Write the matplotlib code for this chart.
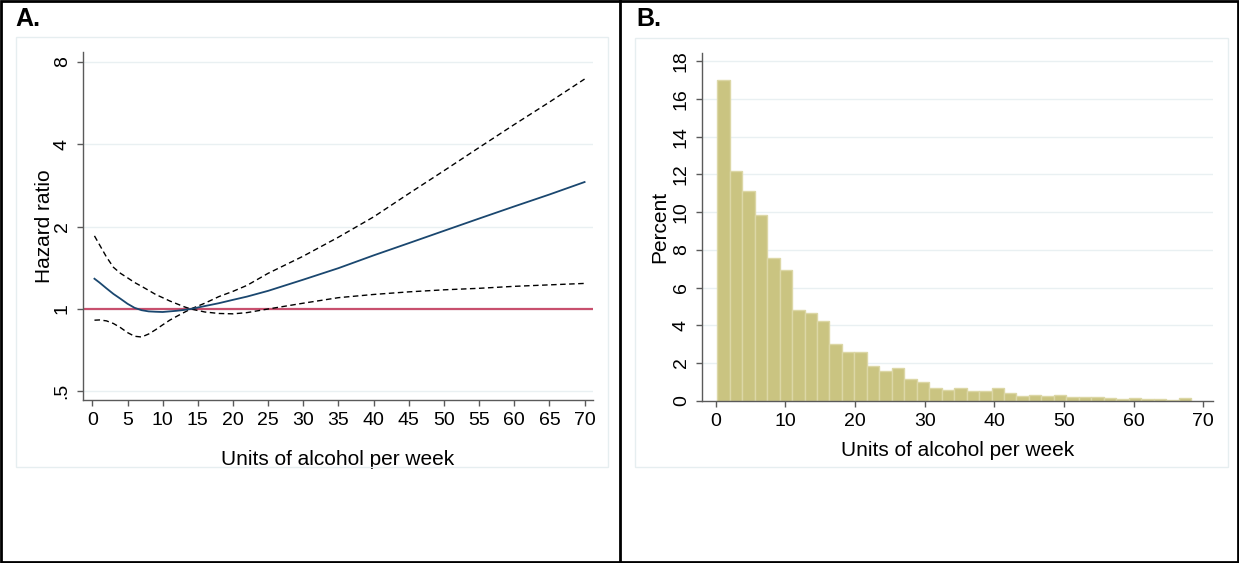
import matplotlib
matplotlib.use("Agg")
import matplotlib.pyplot as plt
from matplotlib.patches import Rectangle
from matplotlib.lines import Line2D
from matplotlib.ticker import FixedLocator, FixedFormatter, NullLocator
import numpy as np

plt.rcParams['font.family'] = ['Liberation Sans', 'DejaVu Sans']

# ---------------- Panel A data ----------------
units = [0.3, 1, 2, 3, 4, 5, 6, 7, 8, 9, 10, 11, 12, 13, 14, 16, 18, 20, 22, 25,
         30, 35, 40, 45, 50, 55, 60, 65, 70]
hr = [1.29, 1.25, 1.19, 1.135, 1.09, 1.045, 1.01, 0.99, 0.98, 0.977, 0.975, 0.98,
      0.985, 0.992, 1.0, 1.025, 1.05, 1.08, 1.11, 1.165, 1.28, 1.41, 1.57, 1.74,
      1.93, 2.14, 2.37, 2.62, 2.91]
ci_a = [1.85, 1.72, 1.55, 1.42, 1.35, 1.30, 1.25, 1.21, 1.17, 1.13, 1.10, 1.07,
        1.045, 1.02, 1.0, 0.975, 0.963, 0.96, 0.97, 1.0, 1.05, 1.10, 1.13, 1.155,
        1.175, 1.19, 1.21, 1.225, 1.24]
ci_b = [0.91, 0.912, 0.905, 0.885, 0.855, 0.82, 0.795, 0.79, 0.81, 0.84, 0.875,
        0.91, 0.94, 0.97, 1.0, 1.05, 1.11, 1.16, 1.22, 1.35, 1.56, 1.83, 2.17,
        2.64, 3.20, 3.89, 4.72, 5.70, 6.92]
ref_hr = 1.0
a_xticks = [0, 5, 10, 15, 20, 25, 30, 35, 40, 45, 50, 55, 60, 65, 70]
a_yticks = [0.5, 1, 2, 4, 8]
a_yticklabels = ['.5', '1', '2', '4', '8']

# ---------------- Panel B data ----------------
bin_start = 0.23
bin_width = 1.79
percent = [17.0, 12.17, 11.1, 9.83, 7.55, 6.91, 4.79, 4.63, 4.23, 3.02, 2.60, 2.60,
           1.84, 1.56, 1.73, 1.13, 0.97, 0.66, 0.57, 0.66, 0.52, 0.49, 0.68, 0.39,
           0.24, 0.28, 0.24, 0.28, 0.19, 0.18, 0.18, 0.12, 0.07, 0.12, 0.07, 0.07,
           0.03, 0.12]
b_xticks = [0, 10, 20, 30, 40, 50, 60, 70]
b_yticks = [0, 2, 4, 6, 8, 10, 12, 14, 16, 18]

W, H = 1239, 563
fig = plt.figure(figsize=(W / 100, H / 100), dpi=100)

AXIS_C = '#5a5a5a'
GRID_C = '#e9f0f2'
TICK_FS = 14
LAB_FS = 15


def fx(px):
    return px / W


def fy(py):
    return 1 - py / H


def style_axes(ax):
    for s in ['top', 'right']:
        ax.spines[s].set_visible(False)
    for s in ['left', 'bottom']:
        ax.spines[s].set_color(AXIS_C)
        ax.spines[s].set_linewidth(1.0)
    ax.tick_params(axis='both', colors=AXIS_C, labelcolor='black', length=4.5,
                   width=1.0, labelsize=TICK_FS, pad=4)
    for lab in ax.get_yticklabels():
        lab.set_rotation(90)
        lab.set_va('center')


# region frames (light)
for (l, t, r, b) in [(15.5, 37, 608, 467), (635, 37.5, 1227.5, 467)]:
    fig.add_artist(Rectangle((fx(l), fy(b)), fx(r) - fx(l), fy(t) - fy(b),
                             transform=fig.transFigure, fill=False,
                             edgecolor='#e6eef0', linewidth=1.0))

# ---------------- Panel A ----------------
axA = fig.add_axes([fx(82.5), fy(400), fx(593) - fx(82.5), fy(52) - fy(400)])
axA.set_yscale('log', base=2)
axA.set_xlim(-1.4, 71.2)
axA.set_ylim(0.465, 8.69)
for yv in a_yticks:
    axA.axhline(yv, color=GRID_C, lw=1.0, zorder=0)
axA.axhline(ref_hr, color='#c8506e', lw=1.6, zorder=2)
axA.plot(units, ci_a, color='black', lw=1.0, dashes=(4, 2.5), zorder=3)
axA.plot(units, ci_b, color='black', lw=1.0, dashes=(4, 2.5), zorder=3)
axA.plot(units, hr, color='#1a476f', lw=1.3, zorder=4)
axA.xaxis.set_major_locator(FixedLocator(a_xticks))
axA.yaxis.set_major_locator(FixedLocator(a_yticks))
axA.yaxis.set_major_formatter(FixedFormatter(a_yticklabels))
axA.yaxis.set_minor_locator(NullLocator())
style_axes(axA)
axA.set_xlabel('Units of alcohol per week', fontsize=LAB_FS, labelpad=15)
axA.set_ylabel('Hazard ratio', fontsize=LAB_FS, labelpad=0)

# ---------------- Panel B ----------------
axB = fig.add_axes([fx(701.7), fy(400.7), fx(1213) - fx(701.7), fy(52.7) - fy(400.7)])
axB.set_xlim(-2.0, 71.4)
axB.set_ylim(0, 18.46)
for yv in b_yticks[1:]:
    axB.axhline(yv, color=GRID_C, lw=1.0, zorder=0)
lefts = [bin_start + i * bin_width for i in range(len(percent))]
axB.bar(lefts, percent, width=bin_width, align='edge', color='#cac481',
        edgecolor='#dcd7a6', linewidth=1.0, zorder=2)
axB.xaxis.set_major_locator(FixedLocator(b_xticks))
axB.yaxis.set_major_locator(FixedLocator(b_yticks))
style_axes(axB)
axB.set_xlabel('Units of alcohol per week', fontsize=LAB_FS, labelpad=8)
axB.set_ylabel('Percent', fontsize=LAB_FS, labelpad=2.5)

# panel letters
fig.text(fx(15), fy(7), 'A.', fontsize=18, fontweight='bold', ha='left', va='top')
fig.text(fx(636), fy(7), 'B.', fontsize=18, fontweight='bold', ha='left', va='top')

# outer black frame and divider
lw_frame = 2.0
fig.add_artist(Rectangle((fx(0.8), fy(562)), fx(1238) - fx(0.8), fy(0.8) - fy(562),
                         transform=fig.transFigure, fill=False, edgecolor='black',
                         linewidth=lw_frame))
fig.add_artist(Line2D([fx(620), fx(620)], [0, 1], transform=fig.transFigure,
                      color='black', linewidth=lw_frame))

fig.savefig('out.png', dpi=100, facecolor='white')
